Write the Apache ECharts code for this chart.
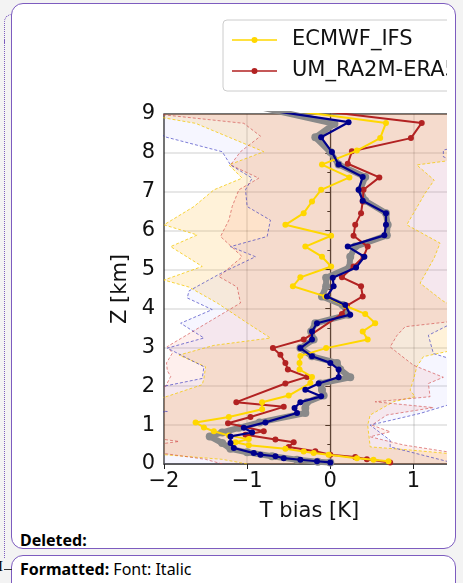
<!DOCTYPE html>
<html>
<head>
<meta charset="utf-8">
<script src="https://cdn.jsdelivr.net/npm/echarts@6/dist/echarts.min.js"></script>
<style>
  html, body { margin:0; padding:0; }
  body { width:463px; height:583px; background:#f3f3f3; position:relative; overflow:hidden; font-family:"Noto Sans","Open Sans",sans-serif; }
  .panel { position:absolute; left:11px; width:443px; background:#fff; border:1.5px solid #7d5cbf; border-radius:12px; }
  #p1 { top:3px; height:544px; }
  #p2 { top:555px; height:60px; }
  #wrap { position:absolute; left:0; top:0; width:447px; height:530px; overflow:hidden; }
  #chart { width:480px; height:530px; }
  .note { position:absolute; left:20px; font-size:16px; color:#000; white-space:nowrap; }
  #dots { position:absolute; left:4px; top:40px; height:518px; border-left:1px dotted #7d5cbf; }
  #dots2 { position:absolute; left:4px; top:14px; width:8px; height:28px; border-left:1px dotted #7d5cbf; border-top:1px dotted #7d5cbf; border-top-left-radius:8px; }
</style>
</head>
<body>
<div id="dots2"></div>
<div id="dots"></div>
<div class="panel" id="p1"></div>
<div class="panel" id="p2"></div>
<div class="note" style="top:529px;font-weight:bold;">Deleted:</div>
<div class="note" style="top:558px;"><b>Formatted:</b> Font: Italic</div>
<div style="position:absolute;left:-2px;top:558px;font-size:15px;color:#000;font-family:'Liberation Serif',serif;">I</div>
<div style="position:absolute;left:4px;top:569px;width:8px;border-top:1px solid #333;"></div>
<div id="wrap"><div id="chart"></div></div>
<script>
// ---------------- data ----------------
// Mean profiles: T bias [K] at height Z [km]
const zGray  = [0.04,0.06,0.11,0.20,0.30,0.39,0.54,0.71,0.81,0.93,1.07,1.31,1.44,1.59,1.76,1.91,2.07,2.23,2.43,2.60,2.77,2.98,3.20,3.41,3.62,3.84,4.09,4.31,4.57,4.79,5.05,5.33,5.59,5.88,6.15,6.45,6.77,7.05,7.38,7.70,8.02,8.40,8.75,9.20];
const tGray  = [0.00,-0.15,-0.40,-0.70,-1.00,-1.20,-1.30,-1.45,-1.30,-1.10,-0.85,-0.30,-0.30,-0.28,-0.08,-0.10,-0.12,0.24,0.12,0.08,-0.22,-0.36,-0.20,-0.23,-0.18,0.22,0.15,-0.10,-0.05,-0.05,0.23,0.24,0.30,0.68,0.69,0.67,0.42,0.36,0.42,0.10,0.00,-0.18,0.05,-0.90];

const zNavy  = [0.04,0.07,0.11,0.15,0.20,0.24,0.28,0.41,0.54,0.71,0.81,0.93,1.07,1.31,1.44,1.59,1.74,1.91,2.07,2.23,2.43,2.60,2.77,2.98,3.20,3.41,3.62,3.84,4.09,4.31,4.57,4.79,5.05,5.33,5.59,5.88,6.15,6.45,6.77,7.05,7.38,7.70,8.02,8.40,8.79,9.10];
const tNavy  = [0.00,-0.16,-0.36,-0.56,-0.66,-0.84,-0.92,-1.16,-1.20,-1.20,-0.94,-1.04,-0.78,-0.40,-0.43,-0.36,-0.11,-0.30,-0.14,0.10,0.10,0.00,-0.22,-0.36,-0.22,-0.22,-0.16,0.24,0.18,-0.04,0.04,0.03,0.31,0.41,0.21,0.65,0.67,0.67,0.39,0.34,0.39,0.10,0.02,-0.11,0.22,-0.75];

const zEcmwf = [0.07,0.11,0.15,0.24,0.28,0.32,0.39,0.48,0.56,0.64,0.73,0.84,0.94,1.07,1.21,1.41,1.59,1.76,2.08,2.24,2.43,2.60,2.78,2.98,3.20,3.41,3.62,3.86,4.07,4.31,4.57,4.80,5.08,5.33,5.59,5.87,6.15,6.45,6.75,7.05,7.37,7.70,8.06,8.38,8.77,9.10];
const tEcmwf = [0.70,0.52,0.32,-0.02,-0.20,-0.32,-0.54,-0.98,-1.14,-0.98,-1.22,-1.40,-1.52,-1.62,-1.22,-0.82,-0.82,-0.50,-0.24,-0.22,-0.37,-0.37,-0.36,-0.05,0.45,0.39,0.54,0.42,0.18,-0.06,-0.45,-0.36,0.01,-0.10,-0.30,0.01,-0.54,-0.32,-0.22,-0.11,0.23,-0.10,0.32,0.60,0.67,-0.50];

const zUm    = [0.04,0.12,0.18,0.24,0.33,0.44,0.56,0.63,0.75,0.84,1.05,1.21,1.47,1.59,2.07,2.24,2.43,2.60,2.81,2.98,3.20,3.86,4.07,4.31,4.57,4.80,5.08,5.33,5.59,5.87,6.15,6.45,6.75,7.05,7.37,7.72,8.04,8.38,8.77,9.10];
const tUm    = [0.72,0.44,0.30,0.00,-0.18,-0.50,-0.44,-0.66,-1.02,-0.80,-1.23,-0.96,-0.56,-1.13,-0.54,-0.28,-0.51,-0.54,-0.60,-0.69,-0.32,0.14,0.20,0.39,0.37,0.14,0.28,0.40,0.45,0.28,0.30,0.37,0.39,0.40,0.59,0.21,0.26,0.97,1.10,-0.20];

// Spread envelopes (left / right edges) for each model
const zUmL   = [0,0.12,0.30,0.50,0.58,0.66,1.90,2.00,2.25,2.40,2.60,2.85,3.02,4.14,4.55,4.82,5.33,5.85,6.27,6.62,7.05,7.35,7.69,8.03,8.43,8.76,9.00];
const tUmL   = [-1.30,-1.50,-2.10,-2.10,-1.82,-2.10,-2.10,-1.98,-1.92,-1.96,-1.97,-1.90,-1.96,-1.08,-1.12,-1.34,-1.06,-1.32,-1.22,-1.18,-1.10,-0.86,-1.20,-1.08,-0.84,-1.04,-2.10];
const zUmR   = [0,0.20,0.31,0.49,0.70,0.83,1.00,1.26,1.45,1.60,1.73,2.07,2.23,2.54,3.01,3.30,3.53,3.70,9.00];
const tUmR   = [1.60,1.60,1.42,0.88,0.48,0.72,0.50,0.68,1.24,0.54,1.20,1.18,1.36,1.00,0.72,0.80,0.90,1.60,1.60];

const zNavyL = [0,1.30,1.35,1.40,1.95,2.00,2.20,2.50,2.85,2.98,3.24,3.62,3.97,4.27,4.45,4.90,5.33,5.59,5.85,6.27,6.62,7.05,7.35,7.69,8.03,8.42,9.00];
const tNavyL = [-2.20,-2.20,-1.96,-2.20,-2.20,-2.00,-1.54,-1.52,-1.84,-1.96,-1.52,-1.80,-1.42,-1.72,-1.70,-1.32,-0.90,-1.20,-0.76,-0.72,-1.00,-1.02,-0.94,-1.20,-1.30,-2.00,-2.20];
const zNavyR = [0,0.06,0.44,0.61,1.00,1.30,1.52,1.60,2.60,2.67,2.84,3.31,3.57,7.70,7.90,8.07,8.20,9.00];
const tNavyR = [1.60,1.42,0.72,0.72,0.48,1.08,1.42,1.60,1.60,1.50,1.24,1.18,1.42,1.60,1.36,1.36,1.60,1.60];

const zEcL   = [0,0.12,0.24,0.30,1.60,1.74,2.04,2.20,2.50,2.80,3.05,3.24,3.60,4.14,4.55,4.73,5.08,5.59,5.89,6.15,6.62,7.05,7.35,7.69,8.03,8.76,8.90,9.00];
const tEcL   = [-1.00,-1.30,-2.00,-2.20,-2.20,-1.96,-1.54,-1.52,-1.50,-1.82,-1.40,-0.72,-0.98,-1.36,-1.70,-2.00,-1.54,-1.92,-1.60,-2.00,-1.64,-1.40,-1.06,-1.22,-0.80,-1.62,-2.00,-2.20];
const zEcR   = [0,0.27,0.36,0.44,1.00,1.26,1.60,1.73,1.90,2.16,2.50,2.76,2.90,3.00,3.90,4.20,4.65,5.30,5.68,6.15,6.96,7.30,7.69,7.85,9.00];
const tEcR   = [1.60,1.42,0.96,0.48,0.45,0.48,0.76,1.02,0.96,1.00,1.04,1.12,1.42,1.60,1.60,1.35,1.08,1.25,1.32,0.92,1.14,1.25,1.04,1.60,1.60];

const xTicks = [-2, -1, 0, 1];
const yTicks = [0,1,2,3,4,5,6,7,8,9];
const legendNames = ['ECMWF_IFS', 'UM_RA2M-ERA5'];

// ---------------- chart ----------------
const zip = (t, z) => t.map((v, i) => [v, z[i]]);
const bands = [
  { zL: zEcL,   tL: tEcL,   zR: zEcR,   tR: tEcR,   fill: 'rgba(255,170,0,0.15)',  edge: 'rgba(245,200,0,0.85)' },
  { zL: zUmL,   tL: tUmL,   zR: zUmR,   tR: tUmR,   fill: 'rgba(240,80,50,0.09)',  edge: 'rgba(205,60,60,0.65)' },
  { zL: zNavyL, tL: tNavyL, zR: zNavyR, tR: tNavyR, fill: 'rgba(80,80,255,0.05)',  edge: 'rgba(50,50,190,0.7)' }
];

const chart = echarts.init(document.getElementById('chart'), null, { renderer: 'canvas' });
const FONT = 'DejaVu Sans';
const series = [];

series.push({
  type: 'custom', name: 'bands', silent: true, clip: true, z: 1,
  data: bands.map((b, i) => [i, 0]),
  renderItem: function (params, api) {
    const b = bands[params.dataIndex];
    const pts = [];
    for (let i = 0; i < b.zL.length; i++) pts.push(api.coord([b.tL[i], b.zL[i]]));
    for (let i = b.zR.length - 1; i >= 0; i--) pts.push(api.coord([b.tR[i], b.zR[i]]));
    const r = params.coordSys;
    return {
      type: 'polygon', shape: { points: pts }, style: { fill: b.fill },
      clipPath: { type: 'rect', shape: { x: r.x, y: r.y, width: r.width, height: r.height } }
    };
  }
});

bands.forEach(b => {
  [zip(b.tL, b.zL), zip(b.tR, b.zR)].forEach(d => {
    series.push({
      type: 'line', data: d, silent: true, symbol: 'none', z: 2,
      lineStyle: { color: b.edge, width: 0.9, type: [3, 2] }
    });
  });
});

series.push({
  name: 'Gray', type: 'line', data: zip(tGray, zGray), z: 3,
  symbol: 'circle', symbolSize: 8, itemStyle: { color: '#8a8a8a' },
  lineStyle: { color: '#8a8a8a', width: 6 }
});
series.push({
  name: legendNames[1], type: 'line', data: zip(tUm, zUm), z: 4,
  symbol: 'circle', symbolSize: 6, itemStyle: { color: '#b22222' },
  lineStyle: { color: '#b22222', width: 2 }
});
series.push({
  name: legendNames[0], type: 'line', data: zip(tEcmwf, zEcmwf), z: 5,
  symbol: 'circle', symbolSize: 6, itemStyle: { color: '#ffd700' },
  lineStyle: { color: '#ffd700', width: 2 }
});
series.push({
  name: 'Navy', type: 'line', data: zip(tNavy, zNavy), z: 6,
  symbol: 'circle', symbolSize: 6, itemStyle: { color: '#00008b' },
  lineStyle: { color: '#00008b', width: 2.2 }
});

chart.setOption({
  animation: false,
  backgroundColor: 'transparent',
  textStyle: { fontFamily: FONT },
  grid: { left: 164, top: 114, width: 291, height: 350, show: true, borderColor: '#555', borderWidth: 1.5, backgroundColor: 'transparent' },
  legend: {
    data: legendNames, orient: 'vertical', left: 223, top: 20,
    icon: 'path://M0,2.2L45,2.2L45,3.8L0,3.8Z M25.5,3A3,3,0,1,1,19.5,3A3,3,0,1,1,25.5,3Z',
    padding: [8, 140, 8, 9], itemGap: 7, itemWidth: 45, itemHeight: 6,
    backgroundColor: 'rgba(255,255,255,0.85)', borderColor: '#cccccc', borderWidth: 1, borderRadius: 4,
    textStyle: { fontSize: 21, lineHeight: 24, color: '#111', fontFamily: FONT, padding: [0, 0, 0, 10] }
  },
  xAxis: {
    type: 'value', min: xTicks[0], max: 1.5, interval: 1,
    name: 'T bias [K]', nameLocation: 'middle', nameGap: 37,
    nameTextStyle: { fontSize: 21, color: '#111', fontFamily: FONT },
    axisLine: { show: true, onZero: false, lineStyle: { color: '#555', width: 1.6 } },
    axisTick: { show: true, length: 5, lineStyle: { color: '#222' } },
    axisLabel: { fontSize: 21, color: '#111', margin: 7, fontFamily: FONT,
      formatter: v => (xTicks.indexOf(v) >= 0 ? String(v).replace('-', '\u2212') : '') },
    splitLine: { show: true, lineStyle: { color: 'rgba(0,0,0,0.13)', width: 1.5 } }
  },
  yAxis: {
    type: 'value', min: yTicks[0], max: yTicks[yTicks.length - 1], interval: 1,
    name: 'Z [km]', nameLocation: 'middle', nameGap: 25, nameRotate: 90,
    nameTextStyle: { fontSize: 21, color: '#111', fontFamily: FONT },
    axisLine: { show: true, lineStyle: { color: '#333', width: 1.2 } },
    axisTick: { show: true, length: 5, lineStyle: { color: '#222' } },
    minorTick: { show: true, splitNumber: 2, length: 3, lineStyle: { color: '#222' } },
    axisLabel: { fontSize: 21, color: '#111', margin: 9, fontFamily: FONT,
      formatter: v => (yTicks.indexOf(v) >= 0 ? String(v) : '') },
    splitLine: { show: true, lineStyle: { color: 'rgba(0,0,0,0.13)', width: 1.5 } }
  },
  series: series
});
</script>
</body>
</html>
